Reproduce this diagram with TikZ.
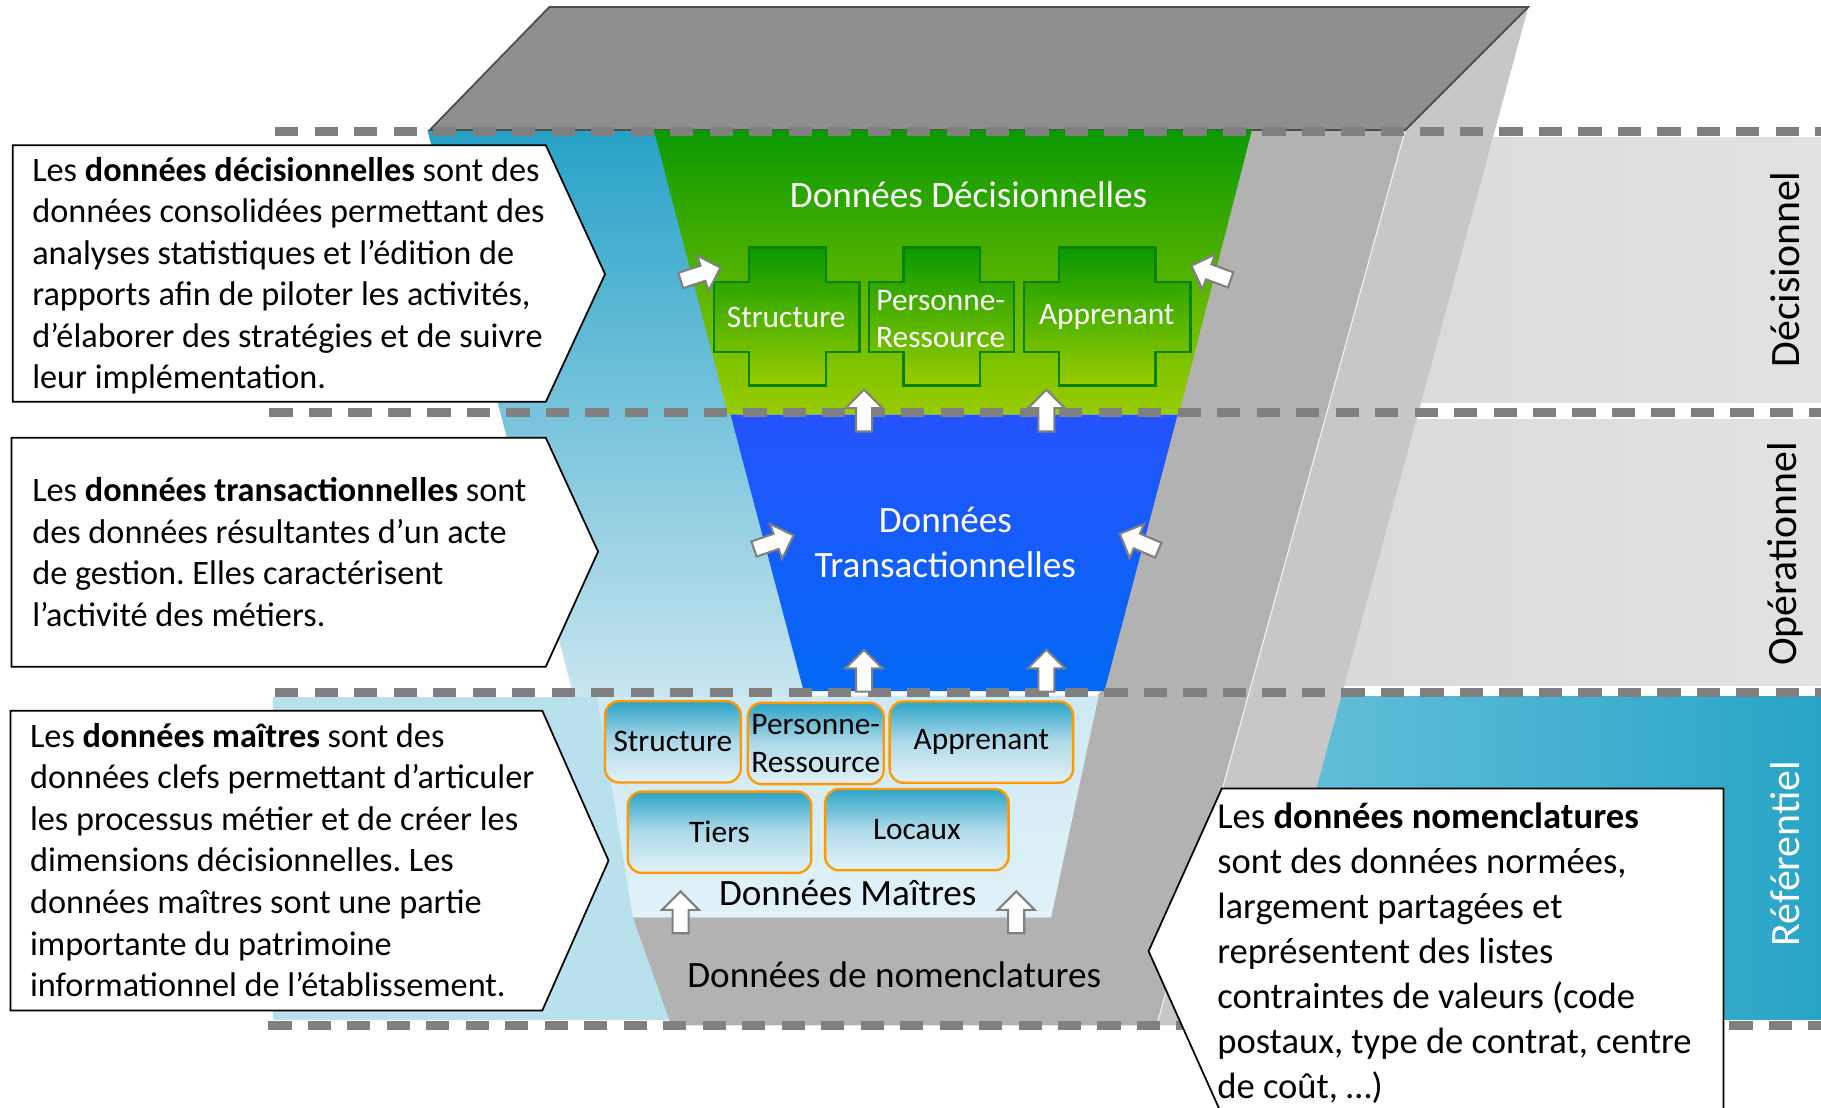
\documentclass[tikz,border=0pt]{standalone}
\usepackage{fontspec}
\setmainfont{Carlito}
\frenchspacing
\usetikzlibrary{shapes.arrows, positioning, calc}
\definecolor{bandgray}{RGB}{216,216,216}
\definecolor{bandgrayr}{RGB}{226,226,226}
\definecolor{refteal}{RGB}{40,164,199}
\definecolor{refteall}{RGB}{104,193,218}
\definecolor{reflight}{RGB}{184,225,237}
\definecolor{faceteal}{RGB}{39,162,200}
\definecolor{facelight}{RGB}{200,229,239}
\definecolor{topgray}{RGB}{143,143,143}
\definecolor{sidedark}{RGB}{178,178,178}
\definecolor{sidelight}{RGB}{199,199,199}
\definecolor{decgreen}{RGB}{10,153,0}
\definecolor{decyellow}{RGB}{153,204,0}
\definecolor{trblue}{RGB}{36,83,255}
\definecolor{trblueb}{RGB}{3,104,245}
\definecolor{mlight}{RGB}{206,233,243}
\definecolor{mlightb}{RGB}{225,242,248}
\definecolor{mteal}{RGB}{44,164,200}
\definecolor{mmid}{RGB}{176,218,233}
\definecolor{mborder}{RGB}{255,153,0}
\definecolor{dashgray}{RGB}{128,128,128}
\newcommand{\drawpiece}[4]{
    \draw[piece] (#3,213) -- (#4,213) -- (#4,243) -- (#2,243) -- (#2,303) -- (#4,303)
        -- (#4,332) -- (#3,332) -- (#3,303) -- (#1,303) -- (#1,243) -- (#3,243) -- cycle;
}
\tikzset{
    layerline/.style={
        dashgray, line width=7.5pt, dash pattern=on 20pt off 14pt
    },
    callout/.style={
        draw=black, fill=white, line width=1.5pt
    },
    calltext/.style={
        anchor=north west, inner sep=0pt, align=left, font=\fontsize{29.5}{35.8}\selectfont
    },
    bigtext/.style={
        inner sep=0pt, font=\fontsize{31.5}{38.7}\selectfont
    },
    lbl/.style={
        inner sep=0pt, font=\fontsize{32}{39}\selectfont
    },
    sidelbl/.style={
        inner sep=0pt, rotate=90, font=\fontsize{36}{40}\selectfont
    },
    piece/.style={
        draw=decgreen!85!black, line width=2pt, top color=decgreen, bottom color=decyellow
    },
    piecetext/.style={
        inner sep=0pt, text=white, align=center, font=\fontsize{27}{32}\selectfont
    },
    mbox/.style={
        draw=mborder, line width=2pt, rounded corners=12pt, minimum height=70pt,
        top color=mteal, bottom color=mlightb, middle color=mmid,
        inner sep=0pt, align=center, font=\fontsize{27}{32}\selectfont
    },
    blockarr/.style={
        single arrow, draw=dashgray, fill=white, line width=1.8pt, minimum height=36pt,
        inner sep=6pt, single arrow head extend=9pt
    }
}

\begin{document}
\begin{tikzpicture}[x=1pt, y=-1pt]
    \useasboundingbox (0,0) rectangle (1568,954);
    \clip (0,0) rectangle (1568,954);

    % --- bandes de fond ---
    \shade[left color=bandgray, right color=bandgrayr] (1080,118) rectangle (1568,347);
    \shade[left color=bandgray, right color=bandgrayr] (1080,361) rectangle (1568,590);
    \fill[reflight] (235,600) rectangle (1200,878);
    \shade[left color=refteall, right color=refteal] (1080,600) rectangle (1568,878);

    % --- entonnoir ---
    \shade[top color=faceteal, bottom color=facelight] (368,112) -- (570,112) -- (700,600) -- (494,600) -- cycle;
    \fill[sidelight] (1316,6) -- (1078,883) -- (996,883) -- (1210,112) -- cycle;
    \fill[sidedark] (1078,112) -- (1210,112) -- (996,883) -- (578,883) -- (545,790) -- (905,790) -- (945,599) -- (952,590) -- cycle;
    \draw[white!80!sidedark, line width=1pt] (1210,112) -- (996,883);
    \draw[fill=topgray, draw=black!70, line width=1.5pt] (370,112) -- (473,6) -- (1316,6) -- (1210,112) -- cycle;

    \shade[top color=decgreen, bottom color=decyellow] (563,112) -- (1078,112) -- (1015,357) -- (627,357) -- cycle;
    \shade[top color=trblue, bottom color=trblueb] (629,357) -- (1014,357) -- (951,595) -- (692,595) -- cycle;
    \shade[top color=mlight, bottom color=mlightb] (514,599) -- (946,599) -- (905,790) -- (545,790) -- cycle;

    % --- pieces decisionnelles ---
    \drawpiece{615}{740}{645}{711}
    \drawpiece{748}{873}{778}{844}
    \drawpiece{882}{1025}{912}{995}
    \node[piecetext] (pstruct) at (677,273) {Structure};
    \node[piecetext] (ppers) at (810,275) {Personne-\\Ressource};
    \node[piecetext] (pappr) at (953,273) {Apprenant};

    % --- donnees maitres ---
    \node[mbox, minimum width=117pt] (mstruct) at (579.4,638.8) {Structure};
    \node[mbox, minimum width=117pt] (mpers) at (702.4,640.2) {Personne-\\Ressource};
    \node[mbox, minimum width=158pt] (mappr) at (845,639) {Apprenant};
    \node[mbox, minimum width=158pt] (mtiers) at (619.6,716.6) {Tiers};
    \node[mbox, minimum width=158pt] (mlocaux) at (789.5,714.4) {Locaux};

    % --- titres des couches ---
    \node[lbl, anchor=base, text=white] (tdec) at (834,179) {Données Décisionnelles};
    \node[lbl, align=center, text=white] (ttrans) at (814,467) {Données\\Transactionnelles};
    \node[lbl, anchor=base] (tmaitres) at (730,780) {Données Maîtres};
    \node[lbl, anchor=base] (tnomen) at (770,850) {Données de nomenclatures};

    % --- pointilles ---
    \draw[layerline] (237,113) -- (1568,113);
    \draw[layerline] (232,355) -- (1568,355);
    \draw[layerline] (237,596) -- (1568,596);
    \draw[layerline] (231,883) -- (1568,883);

    % --- fleches ---
    \node[blockarr, rotate=90] (up1) at (744,357) {};
    \node[blockarr, rotate=90] (up2) at (901,357) {};
    \node[blockarr, rotate=90] (up3) at (744,581) {};
    \node[blockarr, rotate=90] (up4) at (901,581) {};
    \node[blockarr, rotate=90] (up5) at (586,789) {};
    \node[blockarr, rotate=90] (up6) at (875,789) {};
    \node[blockarr, rotate=18] (in1) at (600,237) {};
    \node[blockarr, rotate=160] (in2) at (1046,236) {};
    \node[blockarr, rotate=19] (in3) at (663,468) {};
    \node[blockarr, rotate=157] (in4) at (984,468) {};

    % --- bulles ---
    \draw[callout] (11,125) -- (470,125) -- (521,236) -- (470,346) -- (11,346) -- cycle;
    \node[calltext] (cdec) at (27.6,135) {Les \textbf{données décisionnelles} sont des\\
        données consolidées permettant des\\
        analyses statistiques et l’édition de\\
        rapports afin de piloter les activités,\\
        d’élaborer des stratégies et de suivre\\
        leur implémentation.};

    \draw[callout] (10,377) -- (470,377) -- (515,475) -- (470,574) -- (10,574) -- cycle;
    \node[calltext] (ctrans) at (27.6,411) {Les \textbf{données transactionnelles} sont\\
        des données résultantes d’un acte\\
        de gestion. Elles caractérisent\\
        l’activité des métiers.};

    \draw[callout] (9,612) -- (467,612) -- (524,741) -- (467,870) -- (9,870) -- cycle;
    \node[calltext] (cmaitres) at (25.7,622.5) {Les \textbf{données maîtres} sont des\\
        données clefs permettant d’articuler\\
        les processus métier et de créer les\\
        dimensions décisionnelles. Les\\
        données maîtres sont une partie\\
        importante du patrimoine\\
        informationnel de l’établissement.};

    \draw[callout] (1052,679) -- (1484,679) -- (1484,980) -- (1052,980) -- (1062,982) -- (989,819) -- cycle;
    \node[bigtext, anchor=north west, align=left] (cnomen) at (1048,691) {Les \textbf{données nomenclatures}\\
        sont des données normées,\\
        largement partagées et\\
        représentent des listes\\
        contraintes de valeurs (code\\
        postaux, type de contrat, centre\\
        de coût, …)};

    % --- libelles lateraux ---
    \node[sidelbl] (ldec) at (1537,232) {Décisionnel};
    \node[sidelbl] (lop) at (1537,477) {Opérationnel};
    \node[sidelbl, text=white] (lref) at (1537,735) {Référentiel};
\end{tikzpicture}
\end{document}
